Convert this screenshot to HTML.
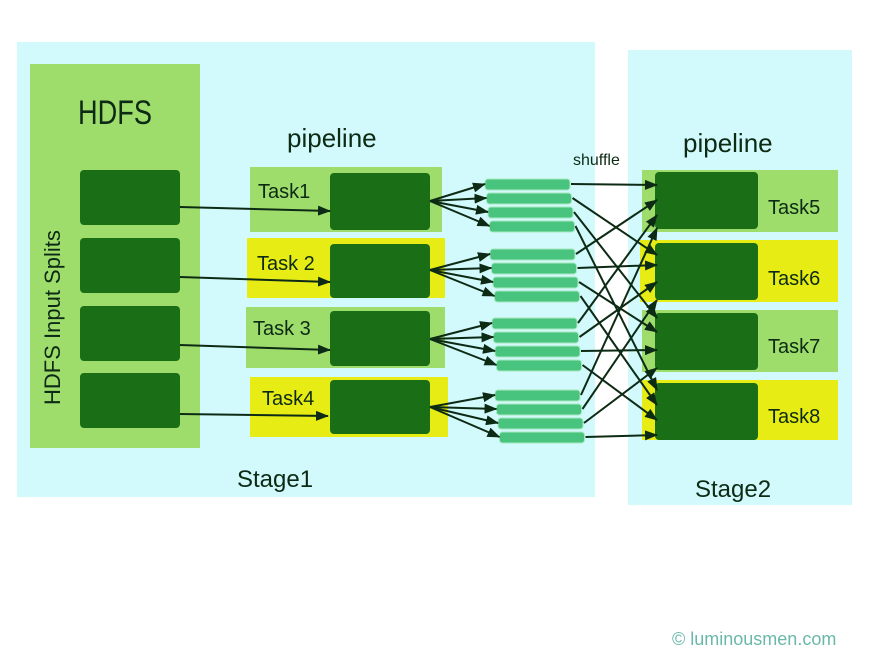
<!DOCTYPE html>
<html><head><style>
body{margin:0;background:#fff;}
svg{display:block;}
text{font-family:"Liberation Sans",sans-serif;fill:#0d2a14;}
</style></head><body>
<svg id="s" width="880" height="660" viewBox="0 0 880 660" xmlns="http://www.w3.org/2000/svg">
<defs><marker id="a" markerWidth="13" markerHeight="10" refX="12" refY="5" orient="auto" markerUnits="userSpaceOnUse"><path d="M0,0 L13,5 L0,10 z" fill="#0d2a14"/></marker></defs>
<rect x="17" y="42" width="578" height="455" fill="#d2fafc"/>
<rect x="628" y="50" width="224" height="455" fill="#d2fafc"/>
<rect x="30" y="64" width="170" height="384" fill="#9edc6c"/>
<text x="78" y="124" font-size="34" textLength="74" lengthAdjust="spacingAndGlyphs">HDFS</text>
<text transform="translate(60,405) rotate(-90)" font-size="22">HDFS Input Splits</text>
<text x="287" y="147" font-size="26">pipeline</text>
<text x="683" y="152" font-size="26">pipeline</text>
<text x="573" y="165" font-size="16">shuffle</text>
<text x="237" y="487" font-size="24">Stage1</text>
<text x="695" y="497" font-size="24">Stage2</text>
<text x="672" y="645" font-size="18" style="fill:#6ab8a8">© luminousmen.com</text>
<g id="g"></g>
</svg>
<script>
var g=document.getElementById('g'),ns='http://www.w3.org/2000/svg';
function el(t,a){var e=document.createElementNS(ns,t);for(var k in a)e.setAttribute(k,a[k]);g.appendChild(e);return e;}
function tx(x,y,s){var e=el('text',{x:x,y:y,'font-size':20});e.textContent=s;}
var L=[170,238,306,373];
L.forEach(function(y){el('rect',{x:80,y:y,width:100,height:55,rx:4,fill:'#1a6e16'});});
var T=[[250,167,192,65,'#9edc6c'],[247,238,198,60,'#e6ec14'],[246,307,199,61,'#9edc6c'],[250,377,198,60,'#e6ec14']];
T.forEach(function(t){el('rect',{x:t[0],y:t[1],width:t[2],height:t[3],fill:t[4]});});
var B=[[330,173,57],[330,244,54],[330,311,55],[330,380,54]];
B.forEach(function(b){el('rect',{x:b[0],y:b[1],width:100,height:b[2],rx:4,fill:'#1a6e16'});});
tx(258,198,'Task1');tx(257,270,'Task 2');tx(253,335,'Task 3');tx(262,405,'Task4');
var S=[[642,170,196,62,'#9edc6c'],[640,240,198,62,'#e6ec14'],[642,310,196,62,'#9edc6c'],[642,380,196,60,'#e6ec14']];
S.forEach(function(t){el('rect',{x:t[0],y:t[1],width:t[2],height:t[3],fill:t[4]});});
var D=[172,243,313,383];
D.forEach(function(y){el('rect',{x:655,y:y,width:103,height:57,rx:4,fill:'#1a6e16'});});
tx(768,214,'Task5');tx(768,285,'Task6');tx(768,353,'Task7');tx(768,423,'Task8');
[[180,207,330,211],[180,277,330,282],[180,345,330,350],[180,414,328,416]].forEach(function(a){
el('line',{x1:a[0],y1:a[1],x2:a[2],y2:a[3],stroke:'#0d2a14','stroke-width':2,'marker-end':'url(#a)'});});
var G=[[485,179],[490,249],[492,318],[495,390]];
var ox=[430,430,430,430],oy=[201,270,339,407];
var ty=[[185,200,215,228],[255,265,282,300],[318,332,350,368],[390,405,420,435]];
G.forEach(function(gr,gi){
 for(var i=0;i<4;i++){
  var y=gr[1]+i*14,x=gr[0]+i*1.5;
  el('rect',{x:x,y:y,width:85,height:11,rx:3,fill:'#48c47e',stroke:'#a8e8c0','stroke-width':1});
  el('line',{x1:ox[gi],y1:oy[gi],x2:x,y2:y+5,stroke:'#0d2a14','stroke-width':2,'marker-end':'url(#a)'});
  el('line',{x1:x+86,y1:y+5,x2:657,y2:ty[i][gi],stroke:'#0d2a14','stroke-width':2,'marker-end':'url(#a)'});
 }
});
</script>
</body></html>
